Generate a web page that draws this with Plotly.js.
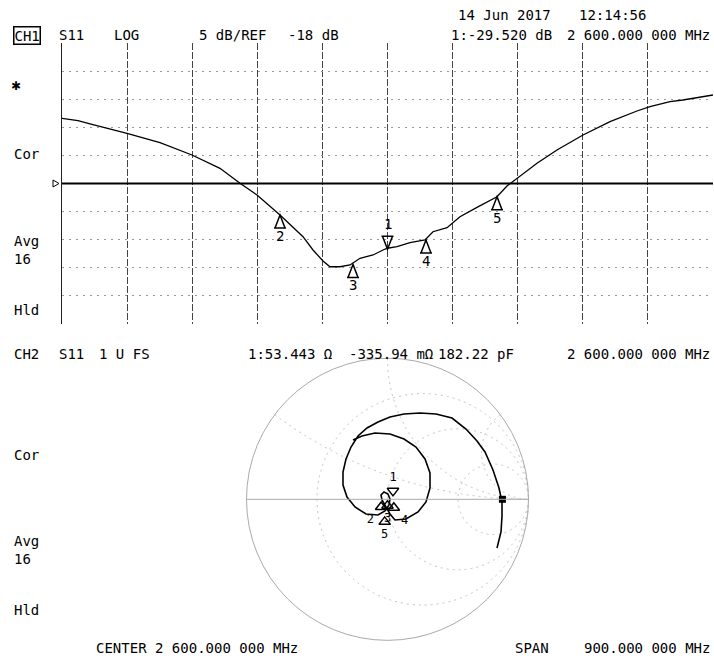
<!DOCTYPE html>
<html>
<head>
<meta charset="utf-8">
<script src="https://cdn.plot.ly/plotly-3.0.1.min.js"></script>
<style>html,body{margin:0;padding:0;background:#fff;}#chart{width:714px;height:658px;}</style>
</head>
<body>
<div id="chart"></div>
<script>
// ---------- DATA ----------
// CH1: S11 log magnitude vs frequency (MHz)
const freqMHz = [2150, 2172.1, 2188.7, 2239.9, 2285.5, 2329.7, 2368.4, 2396.1, 2419.6, 2451.4, 2483.2, 2497.0, 2510.8, 2520.5, 2534.3, 2548.2, 2562.0, 2580.0, 2593.8, 2600.0, 2613.1, 2631.1, 2651.8, 2662.9, 2682.3, 2700.2, 2723.7, 2751.4, 2765.2, 2779.0, 2806.7, 2834.3, 2870.3, 2907.6, 2944.9, 2962.9, 2990.6, 3008.5, 3050];
const s11dB = [-6.40, -6.83, -7.41, -9.07, -10.74, -12.93, -15.30, -17.97, -20.05, -23.61, -27.47, -29.83, -31.79, -32.81, -32.81, -32.50, -31.31, -30.72, -29.83, -29.52, -29.25, -28.53, -28.05, -26.58, -25.87, -23.91, -22.24, -20.35, -18.45, -17.08, -14.41, -12.04, -9.37, -7.00, -5.10, -4.33, -3.45, -3.14, -2.25];
const refLevel = -18;
const xRange = [2150, 3050];
const yRange = [-43, 7];
const markerIds = ['1', '2', '3', '4', '5'];
const markerFreq = [2600, 2451.4, 2552.3, 2653.2, 2751.4];
const markerDB = [-29.52, -23.61, -32.4, -28.05, -20.35];
const markerDir = ['down', 'up', 'up', 'up', 'up'];

const gammaRe = [-0.2447, -0.1809, -0.0887, 0.0177, 0.1170, 0.2021, 0.2660, 0.3014, 0.3014, 0.2730, 0.2163, 0.1312, 0.0532, 0.0177, -0.0106, -0.0390, -0.0461, -0.0248, 0.0035, 0.0177, 0.0106, -0.0177, -0.0674, -0.1525, -0.2305, -0.2872, -0.3156, -0.3156, -0.2943, -0.2589, -0.2092, -0.1454, -0.0674, 0.0177, 0.1170, 0.2305, 0.3440, 0.4574, 0.5567, 0.6348, 0.6915, 0.7482, 0.7908, 0.8121, 0.8121, 0.8050, 0.7766];
const gammaIm = [0.4206, 0.4489, 0.4702, 0.4631, 0.4277, 0.3709, 0.2858, 0.1865, 0.0801, -0.0191, -0.0901, -0.1397, -0.1468, -0.1043, -0.0546, -0.0050, 0.0305, 0.0518, 0.0376, 0.0021, -0.0404, -0.0830, -0.1113, -0.1043, -0.0546, 0.0163, 0.1014, 0.1936, 0.2858, 0.3709, 0.4489, 0.5057, 0.5482, 0.5837, 0.6050, 0.6121, 0.6050, 0.5766, 0.4986, 0.4135, 0.3355, 0.2078, 0.0801, -0.0191, -0.1184, -0.2319, -0.3454];
const smithMarkRe = [0.039, -0.045, 0.000, 0.045, -0.020];
const smithMarkIm = [0.060, -0.055, -0.045, -0.060, -0.160];
const smithMarkTextPos = ['top center', 'bottom left', 'bottom center', 'bottom right', 'bottom center'];
const smithGrid = [1/3, 1, 3];
const stimRe = [0.815];
const stimIm = [0.0];

// ---------- HELPERS ----------
const W = 714, H = 658;
const mono = 'DejaVu Sans Mono';
function toZ(re, im) {
  const zr = [], zi = [];
  for (let i = 0; i < re.length; i++) {
    const a = re[i], b = im[i];
    const den = (1 - a) * (1 - a) + b * b;
    zr.push((1 - a * a - b * b) / den);
    zi.push(2 * b / den);
  }
  return [zr, zi];
}
function txt(t, x, y, anchor, extra) {
  return Object.assign({
    text: t, xref: 'paper', yref: 'paper', x: x / W, y: 1 - y / H,
    xanchor: anchor || 'left', yanchor: 'middle', showarrow: false,
    font: {family: mono, size: 14, color: '#000'}
  }, extra || {});
}

const [smZr, smZi] = toZ(gammaRe, gammaIm);
const [mkZr, mkZi] = toZ(smithMarkRe, smithMarkIm);
const [stZr, stZi] = toZ(stimRe, stimIm);

const traces = [
  {type: 'scatter', x: xRange, y: [refLevel, refLevel], mode: 'lines',
   line: {color: '#000', width: 1.8}, xaxis: 'x', yaxis: 'y', hoverinfo: 'skip'},
  {type: 'scatter', x: freqMHz, y: s11dB, mode: 'lines',
   line: {color: '#000', width: 1.3}, xaxis: 'x', yaxis: 'y'},
  {type: 'scattersmith', real: smZr, imag: smZi, mode: 'lines',
   line: {color: '#000', width: 1.6}, subplot: 'smith'},
  {type: 'scattersmith', real: mkZr, imag: mkZi, mode: 'markers+text',
   text: markerIds, textposition: smithMarkTextPos,
   textfont: {family: mono, size: 12, color: '#000'},
   marker: {symbol: markerDir.map(d => d === 'down' ? 'triangle-down-open' : 'triangle-up-open'),
            size: 10, color: '#000', line: {width: 1.5, color: '#000'}},
   subplot: 'smith'},
  {type: 'scattersmith', real: stZr, imag: stZi, mode: 'markers',
   marker: {symbol: 'square', size: 7, color: '#000'}, subplot: 'smith'}
];

const annotations = [
  txt('14 Jun 2017', 456, 15),
  txt('12:14:56', 577, 15),
  txt('CH1', 13, 35, 'left', {bordercolor: '#000', borderwidth: 1.5, borderpad: 0}),
  txt('S11', 57, 35),
  txt('LOG', 112, 35),
  txt('5 dB/REF', 197, 35),
  txt('-18 dB', 286, 35),
  txt('1:-29.520 dB', 449, 35),
  txt('2 600.000 000 MHz', 712, 35, 'right'),
  txt('✱', 16, 86, 'center', {font: {family: 'DejaVu Sans', size: 12, color: '#000'}}),
  txt('Cor', 12, 154),
  txt('Avg<br>16', 12, 250, 'left', {align: 'left'}),
  txt('Hld', 12, 310),
  txt('CH2', 12, 354),
  txt('S11', 57, 354),
  txt('1 U FS', 97, 354),
  txt('1:53.443 Ω', 246, 354),
  txt('-335.94 mΩ', 347, 354),
  txt('182.22 pF', 436, 354),
  txt('2 600.000 000 MHz', 712, 354, 'right'),
  txt('Cor', 12, 455),
  txt('Avg<br>16', 12, 550, 'left', {align: 'left'}),
  txt('Hld', 12, 610),
  txt('CENTER 2 600.000 000 MHz', 94, 648),
  txt('SPAN', 513, 648),
  txt('900.000 000 MHz', 712, 648, 'right')
];

// CH1 marker triangles (pixel-sized shapes anchored at the marker data) and their labels
const shapes = [
  // reference level pointer at the left edge
  {type: 'path', xref: 'paper', yref: 'y', xsizemode: 'pixel', ysizemode: 'pixel',
   xanchor: 62 / W, yanchor: refLevel, path: 'M -9 3.5 L -3 0 L -9 -3.5 Z',
   line: {color: '#000', width: 1}}
];
const lab = {family: mono, size: 14, color: '#000'};
for (let i = 0; i < markerIds.length; i++) {
  const up = markerDir[i] === 'up';
  shapes.push({type: 'path', xref: 'x', yref: 'y', xsizemode: 'pixel', ysizemode: 'pixel',
    xanchor: markerFreq[i], yanchor: markerDB[i],
    path: up ? 'M 0 0 L -5 -13 L 5 -13 Z M -6 -13 L 6 -13' : 'M 0 -1 L -5 12 L 5 12 Z M -6 12 L 6 12',
    line: {color: '#000', width: 1.5}});
  annotations.push({text: markerIds[i], xref: 'x', yref: 'y', x: markerFreq[i], y: markerDB[i],
    xanchor: 'center', yanchor: 'middle', yshift: up ? -21 : 24, showarrow: false, font: lab});
}

const layout = {
  width: W, height: H, margin: {l: 0, r: 0, t: 0, b: 0},
  paper_bgcolor: '#fff', plot_bgcolor: '#fff', showlegend: false, hovermode: false,
  font: {family: mono, color: '#000'},
  xaxis: {domain: [62 / W, 713 / W], range: xRange, tick0: 2150, dtick: 90, showticklabels: false,
          ticks: '', showgrid: true, gridcolor: '#444', gridwidth: 1, griddash: '7px,2px',
          zeroline: false, showline: false, anchor: 'y', fixedrange: true},
  yaxis: {domain: [1 - 324 / H, 1 - 43 / H], range: yRange, tick0: -43, dtick: 5, showticklabels: false,
          ticks: '', showgrid: true, gridcolor: '#999', gridwidth: 1, griddash: '2px,5px',
          zeroline: false, showline: true, linecolor: '#222', linewidth: 1, anchor: 'x', fixedrange: true},
  smith: {
    domain: {x: [246.5 / W, 528.5 / W], y: [1 - 640.3 / H, 1 - 358.3 / H]},
    bgcolor: '#fff',
    realaxis: {tickvals: smithGrid, showticklabels: false, ticks: '', gridcolor: '#c4c4c4', gridwidth: 1,
               griddash: '2px,4px', showline: true, linecolor: '#aaa', linewidth: 1},
    imaginaryaxis: {tickvals: smithGrid, showticklabels: false, ticks: '', gridcolor: '#c4c4c4', gridwidth: 1,
               griddash: '2px,4px', showline: true, linecolor: '#aaa', linewidth: 1}
  },
  shapes: shapes,
  annotations: annotations
};

Plotly.newPlot('chart', traces, layout, {staticPlot: true, displayModeBar: false});
</script>
</body>
</html>
